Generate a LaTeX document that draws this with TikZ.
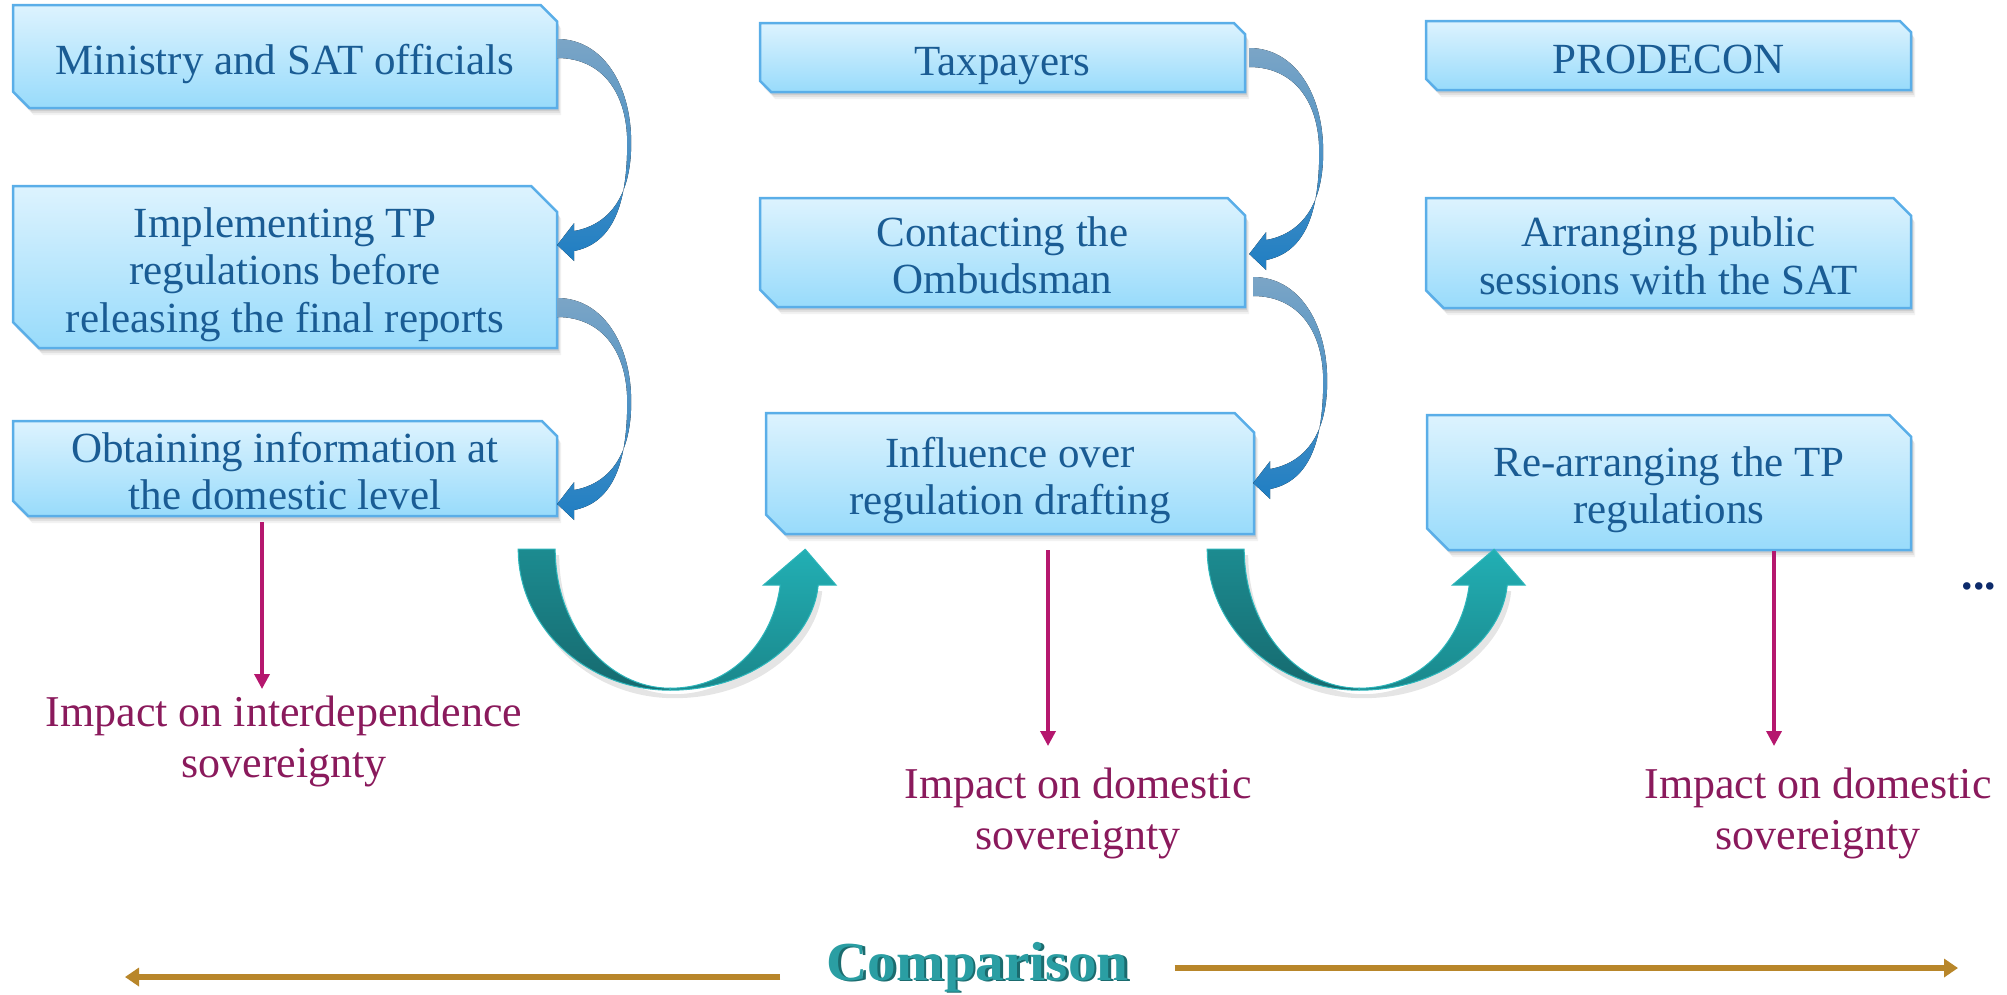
\documentclass[tikz,border=0pt]{standalone}
\usepackage{fontspec}
\setmainfont{Liberation Serif}
\usetikzlibrary{arrows.meta,calc}
\definecolor{boxtxt}{HTML}{1A5C94}
\definecolor{boxedge}{HTML}{5AAEE8}
\definecolor{boxtop}{HTML}{DDF3FE}
\definecolor{boxbot}{HTML}{98DBFB}
\definecolor{lbl}{HTML}{8A1A5C}
\definecolor{mag}{HTML}{B5176E}
\definecolor{gold}{HTML}{B8862A}
\definecolor{cmpc}{HTML}{2A9EA3}
\definecolor{cmpsh}{HTML}{1B6B6E}
\definecolor{dotc}{HTML}{0D2B6B}
\definecolor{bluA}{HTML}{7BA5C6}
\definecolor{bluB}{HTML}{55AAE4}
\definecolor{bluC}{HTML}{1F7EC3}
\definecolor{tealA}{HTML}{1C8B90}
\definecolor{tealB}{HTML}{166A6F}
\definecolor{tealC}{HTML}{22AFB4}
\definecolor{tealD}{HTML}{1A878B}
\definecolor{tealE}{HTML}{2DB6BB}
\tikzset{
 boxfill/.style={top color=boxtop,bottom color=boxbot,draw=boxedge,line width=2.5pt,line join=miter},
 boxtext/.style={inner sep=0pt,align=center,text=boxtxt,font=\fontsize{43}{47.5}\selectfont},
 lbltext/.style={inner sep=0pt,align=center,text=lbl,font=\fontsize{44}{51}\selectfont},
 magarrow/.style={draw=mag,line width=3.5pt,-{Triangle[length=15pt,width=15pt]}},
 goldarrow/.style={draw=gold,line width=5.5pt,-{Triangle[length=14pt,width=18pt]}},
 curvblue/.style={top color=bluA,middle color=bluB,bottom color=bluC},
 tealback/.style={draw=tealE,line width=1pt,top color=tealA,bottom color=tealB},
 tealfront/.style={draw=tealE,line width=1pt,top color=tealC,bottom color=tealD},
 cmpfont/.style={font=\bfseries\fontsize{55}{60}\selectfont,anchor=base,inner xsep=46pt,inner ysep=0pt},
}
\newcommand\chbox[6]{%
 \pgfmathsetmacro\cc{0.16*(#5-#3)}%
 \foreach \sd/\so in {7/0.05,5/0.07,3/0.09}{%
   \fill[black,opacity=\so] ({#2+\sd*0.6},{#3+\sd}) -- ({#4-\cc+\sd*0.6},{#3+\sd}) -- ({#4+\sd*0.6},{#3+\cc+\sd}) -- ({#4+\sd*0.6},{#5+\sd}) -- ({#2+\cc+\sd*0.6},{#5+\sd}) -- ({#2+\sd*0.6},{#5-\cc+\sd}) -- cycle;}
 \path[boxfill] (#2,#3) -- ({#4-\cc},#3) -- (#4,{#3+\cc}) -- (#4,#5) -- ({#2+\cc},#5) -- (#2,{#5-\cc}) -- cycle;
 \node[boxtext,minimum width={#4-#2},minimum height={#5-#3}] (#1) at ({(#2+#4)/2},{(#3+#5)/2}) {\raisebox{-8pt}[\height][\depth]{\begin{tabular}{@{}c@{}}#6\end{tabular}}};
}
\newcommand\bluearc[1]{%
 \fill[curvblue,shift={#1}] (0,0) .. controls (45,0) and (74,45) .. (74,104) .. controls (74,160) and (50,186) .. (17,192) -- (17,184) -- (0,206) -- (17,222) -- (17,212) .. controls (57,204) and (70,163) .. (70,104) .. controls (70,54) and (45,19) .. (0,19) -- cycle;
}
\newcommand\uarrow[1]{%
 \begin{scope}[shift={#1}]
 \fill[black,opacity=0.10] (4,6) .. controls (4,84) and (72,149) .. (156,149) .. controls (239,149) and (299,96) .. (304,42) -- (266,42) .. controls (259,96) and (219,145) .. (156,145) .. controls (93,145) and (41,83) .. (41,6) -- cycle;
 \path[tealback] (0,0) -- (37,0) .. controls (37,77) and (89,139) .. (152,139) -- (152,141) .. controls (68,141) and (0,78) .. (0,0) -- cycle;
 \path[tealfront] (152,141) .. controls (235,141) and (295,90) .. (300,36) -- (318,36) -- (287,0) -- (245,36) -- (262,36) .. controls (255,90) and (215,139) .. (152,139) -- cycle;
 \end{scope}}
\begin{document}
\begin{tikzpicture}[x=1pt,y=-1pt]
\useasboundingbox (0,0) rectangle (2007,994);
% boxes
\chbox{b1}{13}{5}{557}{108}{Ministry and SAT officials}
\chbox{b2}{13}{186}{557}{348}{Implementing TP\\regulations before\\releasing the final reports}
\chbox{b3}{13}{421}{557}{516}{Obtaining information at\\the domestic level}
\chbox{t1}{760}{23}{1245}{92}{Taxpayers}
\chbox{t2}{760}{198}{1245}{307}{Contacting the\\Ombudsman}
\chbox{t3}{766}{413}{1254}{534}{Influence over\\regulation drafting}
\chbox{p1}{1426}{21}{1911}{90}{PRODECON}
\chbox{p2}{1426}{198}{1911}{308}{Arranging public\\sessions with the SAT}
\chbox{p3}{1427}{415}{1911}{550}{Re-arranging the TP\\regulations}
% curved blue arrows
\bluearc{($(b1.east)+(0,-17.5)$)}
\bluearc{($(b2.east)+(0,31)$)}
\bluearc{($(t1.east)+(4,-9.5)$)}
\bluearc{($(t2.east)+(8,24.5)$)}
% U arrows
\uarrow{($(b3.south east)+(-39,33)$)}
\uarrow{($(t3.south east)+(-47,15)$)}
% labels
\node[lbltext] (l1) at (284,741) {Impact on interdependence\\sovereignty};
\node[lbltext] (l2) at (1078,813) {Impact on domestic\\sovereignty};
\node[lbltext] (l3) at (1818,813) {Impact on domestic\\sovereignty};
\coordinate (m1) at (262,689);
\coordinate (m2) at (1048,746);
\coordinate (m3) at (1774,746);
\draw[magarrow] (b3.south -| m1) ++(0,6) -- (m1);
\draw[magarrow] (t3.south -| m2) ++(0,16) -- (m2);
\draw[magarrow] (p3.south -| m3) ++(0,1) -- (m3);
% ellipsis
\node[text=dotc,font=\bfseries\fontsize{46}{46}\selectfont,anchor=base,inner sep=0pt] (ell) at (1979,589) {...};
% comparison
\node[text=cmpsh,cmpfont] (cmpshadow) at (980,981.5) {\scalebox{1.04}[1]{Comparison}};
\node[text=cmpc,cmpfont] (cmp) at (977.5,980) {\scalebox{1.04}[1]{Comparison}};
\coordinate (ltip) at (125,977);
\coordinate (rtip) at (1958,968);
\draw[goldarrow] (cmp.west |- ltip) -- (ltip);
\draw[goldarrow] (cmp.east |- rtip) -- (rtip);
\end{tikzpicture}
\end{document}
